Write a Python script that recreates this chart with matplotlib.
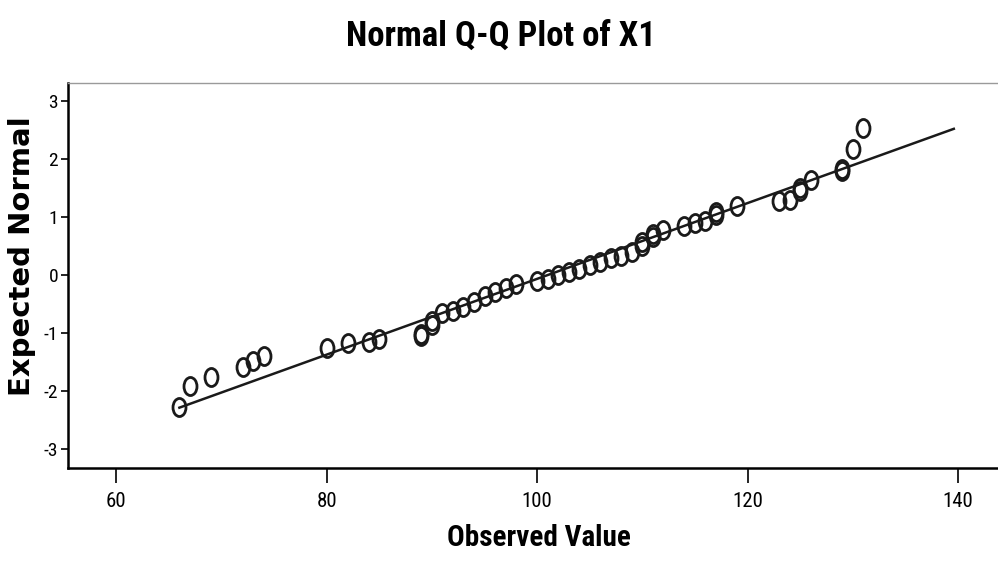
import numpy as np
import matplotlib.pyplot as plt
from matplotlib.path import Path
from matplotlib.transforms import Affine2D

observed = [66, 67, 69, 72, 73, 74, 80, 82, 84, 85, 89, 89, 90, 90, 91, 92, 93, 94,
            95, 96, 97, 98, 100, 101, 102, 103, 104, 105, 106, 107, 108, 109, 110,
            110, 111, 111, 112, 114, 115, 116, 117, 117, 119, 123, 124, 125, 125,
            126, 129, 129, 130, 131]
expected = [-2.28, -1.92, -1.76, -1.59, -1.48, -1.39, -1.26, -1.18, -1.15, -1.11,
            -1.05, -1.01, -0.86, -0.80, -0.65, -0.62, -0.55, -0.46, -0.36, -0.29,
            -0.23, -0.16, -0.11, -0.06, 0.0, 0.06, 0.11, 0.17, 0.23, 0.30, 0.33,
            0.40, 0.50, 0.57, 0.65, 0.70, 0.78, 0.84, 0.89, 0.93, 1.04, 1.08, 1.20,
            1.27, 1.30, 1.45, 1.50, 1.64, 1.79, 1.83, 2.18, 2.53]

# reference line of the normal distribution
line_mean = 101.0
line_sd = 15.3
line_x = [66, 139.6]

x_ticks = [60, 80, 100, 120, 140]
y_ticks = [-3, -2, -1, 0, 1, 2, 3]

narrow = ['Roboto Condensed', 'Archivo Narrow', 'DejaVu Sans']

fig = plt.figure(figsize=(9.98, 5.66), dpi=100)
ax = fig.add_axes([0.068, 0.173, 0.932, 0.680])

# open circles, a bit taller than wide
ellipse = Path.unit_circle().transformed(Affine2D().scale(0.72, 1.0))

lx = np.array(line_x)
ax.plot(lx, (lx - line_mean) / line_sd, color='#1a1a1a', lw=1.8, zorder=2)
ax.plot(observed, expected, linestyle='none', marker=ellipse, markersize=13,
        markerfacecolor='none', markeredgecolor='#1a1a1a', markeredgewidth=2.0,
        zorder=3)

ax.set_xlim(55.4, 143.8)
ax.set_ylim(-3.33, 3.31)
ax.set_xticks(x_ticks)
ax.set_yticks(y_ticks)
ax.set_xticklabels([str(v) for v in x_ticks], family=narrow, fontsize=15)
ax.set_yticklabels([str(v) for v in y_ticks], family=narrow, fontsize=14)
ax.tick_params(axis='x', direction='out', length=11, width=1.2, pad=6)
ax.tick_params(axis='y', direction='out', length=5, width=1.2, pad=2)

ax.spines['right'].set_visible(False)
ax.spines['top'].set_color('#9a9a9a')
ax.spines['top'].set_linewidth(1.0)
ax.spines['left'].set_linewidth(1.8)
ax.spines['bottom'].set_linewidth(1.8)

fig.text(0.502, 0.935, 'Normal Q-Q Plot of X1', ha='center', va='center',
         family=narrow, fontweight='bold', fontsize=25)
fig.text(0.54, 0.05, 'Observed Value', ha='center', va='center',
         family=narrow, fontweight='bold', fontsize=21)
fig.text(0.022, 0.548, 'Expected Normal', ha='center', va='center',
         rotation=90, family='DejaVu Sans', fontweight='bold', fontsize=21)

fig.savefig('out.png', dpi=100)
